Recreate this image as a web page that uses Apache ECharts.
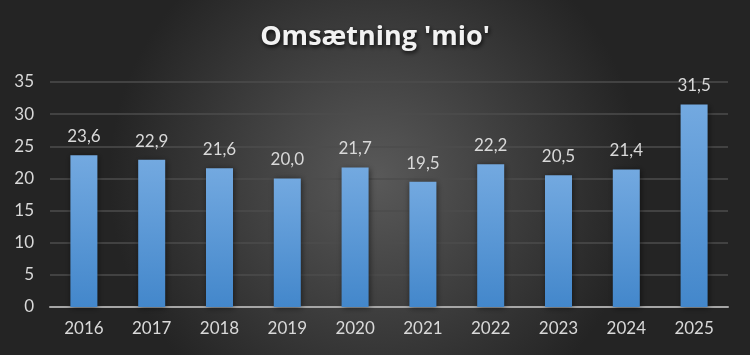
<!DOCTYPE html>
<html>
<head>
<meta charset="utf-8">
<script src="https://cdn.jsdelivr.net/npm/echarts@6/dist/echarts.min.js"></script>
<style>
  html, body { margin: 0; padding: 0; }
  #chart { width: 750px; height: 355px; }
</style>
</head>
<body>
<div id="chart"></div>
<script>
// data
var years = ["2016", "2017", "2018", "2019", "2020", "2021", "2022", "2023", "2024", "2025"];
var omsaetning = [23.6, 22.9, 21.6, 20.0, 21.7, 19.5, 22.2, 20.5, 21.4, 31.5];
var yTicks = [0, 5, 10, 15, 20, 25, 30, 35];

var chart = echarts.init(document.getElementById("chart"));

var option = {
  backgroundColor: {
    type: "radial",
    x: 0.5, y: 0.5, r: 0.75,
    colorStops: [
      { offset: 0, color: "#595959" },
      { offset: 1, color: "#242424" }
    ]
  },
  title: {
    text: "Omsætning 'mio'",
    left: "center",
    top: 19,
    textStyle: {
      color: "#f2f2f2",
      fontFamily: "Open Sans",
      fontWeight: "bold",
      fontSize: 27,
      textShadowColor: "rgba(0,0,0,0.8)",
      textShadowBlur: 4,
      textShadowOffsetX: 1,
      textShadowOffsetY: 2
    }
  },
  grid: { left: 50, right: 22, top: 82, bottom: 48 },
  xAxis: {
    type: "category",
    data: years,
    axisLine: { lineStyle: { color: "#a6a6a6", width: 2 } },
    axisTick: { show: false },
    axisLabel: { color: "#d9d9d9", fontFamily: "Lato", fontSize: 17, margin: 13 }
  },
  yAxis: {
    type: "value",
    min: yTicks[0],
    max: yTicks[yTicks.length - 1],
    interval: 5,
    axisLine: { show: false },
    axisTick: { show: false },
    axisLabel: { color: "#d9d9d9", fontFamily: "Lato", fontSize: 17, margin: 16 },
    splitLine: { lineStyle: { color: "#4d4d4d", width: 1.5 } }
  },
  series: [{
    type: "bar",
    data: omsaetning,
    barWidth: 27,
    itemStyle: {
      color: {
        type: "linear", x: 0, y: 0, x2: 0, y2: 1,
        colorStops: [
          { offset: 0, color: "#73a9e0" },
          { offset: 1, color: "#4387cb" }
        ]
      },
      shadowColor: "rgba(0,0,0,0.5)",
      shadowBlur: 6,
      shadowOffsetX: 1,
      shadowOffsetY: 1
    },
    label: {
      show: true,
      position: "top",
      distance: 10,
      color: "#d9d9d9",
      fontFamily: "Lato",
      fontSize: 17,
      formatter: function (p) { return p.value.toFixed(1).replace(".", ","); }
    }
  }]
};

chart.setOption(option);
</script>
</body>
</html>
